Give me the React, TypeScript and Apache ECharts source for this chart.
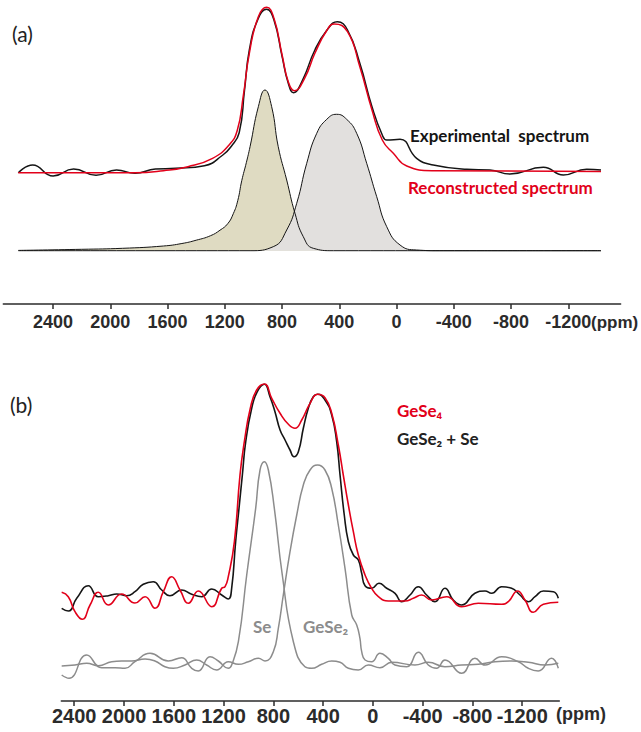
import React, { useEffect, useRef } from "react";
import * as echarts from "echarts";

// ---------- panel (a) data: [ppm, intensity] ----------
const aTicks = [2400, 2000, 1600, 1200, 800, 400, 0, -400, -800, -1200];
const aSeLine: [number, number][] = [
  [2643, 0.3], [2200, 1.4], [1914, 2.4], [1629, 4.7], [1500, 7.2], [1400, 10.5], [1300, 15],
  [1234, 20.5], [1180, 27], [1141, 37], [1110, 50], [1082, 70], [1050, 88], [1024, 104],
  [966, 144], [920, 160.7], [873, 144], [827, 104], [768, 70.7], [710, 37.4], [652, 14],
  [582, 2.4], [442, 0], [-1428, 0],
];
const aGeSe2Line: [number, number][] = [
  [2643, 0], [1024, 0], [862, 4], [768, 20.7], [698, 47.4], [628, 87.4], [558, 117.4],
  [488, 131.4], [419, 136.4], [349, 131.4], [279, 117.4], [209, 87.4], [139, 54], [69, 24],
  [-24, 5.7], [-140, 0.7], [-300, 0], [-1428, 0],
];
const aExperimental: [number, number][] = [
  [2643, 78], [2543, 85.7], [2400, 74.7], [2257, 81.7], [2100, 75.4], [1957, 80.7], [1828, 77.4],
  [1685, 81.7], [1543, 82.4], [1343, 85], [1214, 95.7], [1157, 104], [1100, 118], [1063, 160],
  [1029, 200.7], [971, 230.7], [909, 241.4], [857, 230.7], [800, 194], [757, 167.4], [720, 158],
  [657, 170.7], [571, 200.7], [486, 220.7], [414, 229], [343, 220.7], [257, 187.4], [172, 144],
  [100, 115.7], [69, 110.7], [-24, 111.4], [-140, 92.4], [-256, 85.7], [-490, 81.4], [-652, 80.7],
  [-792, 76.7], [-1025, 83.4], [-1165, 75.7], [-1328, 81.4], [-1428, 80.7],
];
const aReconstructed: [number, number][] = [
  [2643, 78], [1828, 78], [1629, 80], [1458, 84], [1286, 92.4], [1171, 105.7], [1114, 120],
  [1071, 155], [1029, 197.4], [966, 234], [908, 243.4], [857, 232.4], [800, 195.7], [757, 169],
  [714, 160], [643, 172.4], [571, 197.4], [486, 220.7], [435, 226.7], [343, 219], [257, 184],
  [172, 140.7], [100, 110.7], [23, 97.4], [-71, 84.7], [-256, 80], [-1428, 79.2],
];

// ---------- panel (b) data: [ppm, intensity] ----------
const bTicks = [2400, 2000, 1600, 1200, 800, 400, 0, -400, -800, -1200];
const bSe: [number, number][] = [
  [2501, -10], [2442, -13.3], [2300, 10], [2180, -2.7], [2072, -2.7], [1992, -3.3], [1912, 3.3],
  [1791, 11.7], [1644, 4], [1537, 7.3], [1456, -3.3], [1403, -6], [1309, 8.3], [1242, 4],
  [1162, -3.3], [1135, 0], [1081, 23.3], [1014, 90], [942, 156.7], [907, 195], [872, 203.3],
  [840, 195], [792, 156.7], [728, 90], [639, 23.3], [546, -1.7], [492, -3.3], [412, 0.7],
  [331, 4], [264, 2.7], [197, -3.3], [117, -5], [37, 0], [-57, -2.7], [-151, 2.7], [-338, 0],
  [-445, 2.7], [-579, -1.7], [-713, 0], [-847, 0.7], [-981, 3.3], [-1115, 4], [-1249, 2.7],
  [-1383, 0], [-1490, 1.7],
];
const bGeSe2: [number, number][] = [
  [2501, -1], [2394, 0], [2300, 1.7], [2206, -0.7], [2099, 3.3], [2019, 4], [1939, 4], [1831, 6],
  [1751, 4], [1671, -1.7], [1604, -3.3], [1510, 0], [1416, 5], [1336, 0], [1256, -5], [1162, 3.3],
  [1081, 0.7], [1001, 3.3], [920, 6.7], [867, 4], [800, 13.3], [760, 36.7], [720, 70],
  [666, 113.3], [612, 150], [559, 180], [505, 195], [444, 200], [385, 195], [331, 176.7],
  [278, 140], [224, 96.7], [170, 50], [130, 40], [104, 26.7], [90, 13.3], [63, 5], [10, 3.3],
  [-57, 11.7], [-124, 6.7], [-177, 0], [-271, -1.7], [-365, 12.7], [-445, 0], [-512, -3.3],
  [-579, 5], [-713, -8.3], [-820, 6.7], [-901, 0], [-1035, 8.3], [-1169, 3.3], [-1249, -3.3],
  [-1329, -6], [-1436, 6.7], [-1490, -3.3],
];
const bGeSe2PlusSe: [number, number][] = [
  [2501, 56.7], [2448, 54], [2380, 66.7], [2287, 79.3], [2207, 68.3], [2126, 69.3], [2059, 71],
  [1978, 69.3], [1912, 73.3], [1845, 80.7], [1765, 83.3], [1697, 75], [1631, 69.3], [1537, 75],
  [1456, 70.7], [1376, 68.3], [1295, 76], [1215, 70], [1162, 66], [1135, 76.7], [1103, 123.3],
  [1076, 156.7], [1049, 190], [1022, 223.3], [974, 256.7], [929, 273.3], [872, 280.7],
  [827, 268.3], [787, 253.3], [746, 235], [706, 225], [666, 215], [634, 208.3], [599, 213.3],
  [559, 236.7], [519, 256.7], [479, 268.3], [444, 270.7], [385, 265], [331, 250], [291, 223.3],
  [264, 190], [230, 150], [197, 123.3], [157, 110], [117, 105], [90, 91.7], [63, 79.3],
  [10, 76.7], [-49, 81.7], [-111, 76.7], [-178, 71.7], [-231, 63.3], [-298, 70], [-365, 78.3],
  [-432, 70], [-499, 63.3], [-579, 76.7], [-646, 65], [-713, 60], [-820, 71.7], [-901, 74],
  [-954, 71.7], [-1035, 78.3], [-1115, 76.7], [-1182, 70], [-1249, 63.3], [-1303, 68.3],
  [-1370, 74], [-1450, 73.3], [-1490, 66.7],
];
const bGeSe4: [number, number][] = [
  [2501, 72.7], [2448, 68.3], [2394, 53.3], [2335, 45.7], [2273, 60], [2207, 72.7], [2126, 60],
  [2019, 71], [1912, 62], [1831, 68.3], [1751, 56.7], [1684, 73.3], [1617, 88.3], [1550, 75],
  [1483, 61.7], [1403, 74], [1295, 58.3], [1215, 76.7], [1188, 78.3], [1162, 88.3], [1113, 123.3],
  [1068, 190], [1033, 223.3], [985, 256.7], [934, 275], [872, 281], [813, 266.7], [746, 251.7],
  [679, 240.7], [626, 236.7], [572, 245], [505, 261.7], [444, 270.7], [385, 267.3], [331, 251.7],
  [278, 220], [238, 190], [197, 160], [157, 133.3], [117, 110], [63, 90], [10, 76.7], [-44, 68.3],
  [-124, 64], [-177, 64], [-258, 64], [-325, 66.7], [-392, 70], [-472, 65], [-593, 68.3],
  [-713, 58.3], [-847, 61.7], [-1035, 60.7], [-1088, 63.3], [-1163, 74], [-1222, 65],
  [-1289, 52.7], [-1370, 60.7], [-1490, 62.7],
];

const RED = "#e2001a";
const BLACK = "#151515";
const GRAY = "#8c8c8c";
const AXIS = "#2b2b2b";
const LABEL_FONT = "'Liberation Sans', Arial, sans-serif";
const TEXT_FONT = "Lato, 'Noto Sans', sans-serif";

function xAxisFor(gridIndex: number, min: number, max: number, ticks: number[], margin: number, fontSize: number) {
  return {
    type: "value",
    gridIndex,
    min,
    max,
    inverse: true,
    axisLine: { show: true, onZero: false, lineStyle: { color: AXIS, width: 1.5 } },
    axisTick: { show: true, customValues: ticks, length: 5, lineStyle: { color: AXIS, width: 1.5 } },
    axisLabel: {
      show: true,
      customValues: ticks,
      margin,
      hideOverlap: false,
      fontFamily: LABEL_FONT,
      fontWeight: "bold",
      fontSize,
      color: AXIS,
      formatter: (v: number) => String(v),
    },
    splitLine: { show: false },
  };
}

function lineSeries(name: string, data: [number, number][], idx: number, color: string, width: number, area?: string) {
  const s: any = {
    name,
    type: "line",
    xAxisIndex: idx,
    yAxisIndex: idx,
    data,
    smooth: 0.5,
    symbol: "none",
    lineStyle: { color, width },
  };
  if (area) s.areaStyle = { color: area, opacity: 1 };
  return s;
}

export default function App() {
  const ref = useRef<HTMLDivElement>(null);
  useEffect(() => {
    if (!ref.current) return;
    const chart = echarts.init(ref.current, undefined, { renderer: "svg" });
    const txt = (text: string, x: number, y: number, opts: any = {}) => ({
      type: "text",
      x,
      y,
      style: {
        text,
        fontFamily: TEXT_FONT,
        fontSize: 17,
        fontWeight: "bold",
        fill: BLACK,
        verticalAlign: "middle",
        ...opts,
      },
    });
    chart.setOption({
      animation: false,
      backgroundColor: "#ffffff",
      grid: [
        { left: 3.3, right: 20.4, top: 0, height: 304, outerBoundsMode: "none" },
        { left: 61.3, right: 81.7, top: 370, height: 331, outerBoundsMode: "none" },
      ],
      xAxis: [xAxisFor(0, -1565, 2748, aTicks, 9, 18), xAxisFor(1, -1498, 2504, bTicks, 5, 20)],
      yAxis: [
        { type: "value", gridIndex: 0, min: -53.3, max: 250.7, show: false },
        { type: "value", gridIndex: 1, min: -36, max: 295, show: false },
      ],
      series: [
        lineSeries("Se line", aSeLine, 0, BLACK, 1, "#dfdbc2"),
        lineSeries("GeSe2 line", aGeSe2Line, 0, BLACK, 1, "#e2e0de"),
        lineSeries("Experimental spectrum", aExperimental, 0, BLACK, 1.5),
        lineSeries("Reconstructed spectrum", aReconstructed, 0, RED, 1.5),
        lineSeries("Se", bSe, 1, GRAY, 1.5),
        lineSeries("GeSe2", bGeSe2, 1, GRAY, 1.5),
        lineSeries("GeSe2 + Se", bGeSe2PlusSe, 1, BLACK, 1.6),
        lineSeries("GeSe4", bGeSe4, 1, RED, 1.6),
      ],
      graphic: [
        txt("(a)", 12, 33, { fontSize: 21, fontWeight: "normal", fill: "#222" }),
        txt("Experimental  spectrum", 410, 135),
        txt("Reconstructed spectrum", 408, 187, { fill: RED }),
        txt("Se line", 241, 210, { fill: "#222" }),
        txt("GeSe₂", 317, 192, { fill: "#222" }),
        txt("line", 324, 213, { fill: "#222" }),
        txt("(ppm)", 591, 322, { fontFamily: LABEL_FONT, fontSize: 17, fill: AXIS }),
        txt("(b)", 10, 404, { fontSize: 21, fontWeight: "normal", fill: "#222" }),
        txt("GeSe₄", 397, 410, { fill: RED }),
        txt("GeSe₂ + Se", 397, 438, { fill: "#222" }),
        txt("Se", 253, 626, { fill: GRAY }),
        txt("GeSe₂", 303, 626, { fill: GRAY }),
        txt("(ppm)", 556, 714, { fontFamily: LABEL_FONT, fontSize: 18, fill: AXIS }),
      ],
    });
    return () => chart.dispose();
  }, []);
  return (
    <div
      ref={ref}
      style={{ position: "absolute", left: 0, top: 0, width: 641, height: 732, background: "#fff" }}
    />
  );
}
